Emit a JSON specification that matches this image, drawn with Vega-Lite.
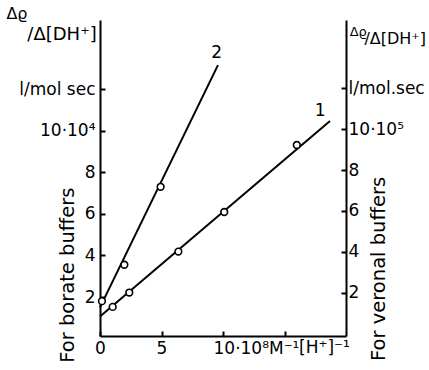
{
  "$schema": "https://vega.github.io/schema/vega-lite/v6.json",
  "width": 246,
  "height": 316,
  "autosize": {"type": "none"},
  "padding": {"left": 100, "top": 20, "right": 83, "bottom": 34},
  "background": "white",
  "config": {
    "view": {"stroke": null},
    "font": "DejaVu Sans",
    "axis": {
      "grid": false,
      "domainColor": "black",
      "domainWidth": 2,
      "tickColor": "black",
      "tickWidth": 2,
      "tickSize": -5,
      "labelColor": "black",
      "labelFont": "DejaVu Sans",
      "labelFontSize": 17,
      "labelPadding": 9,
      "labelFlush": false,
      "labelOverlap": false,
      "labelBound": false,
      "titleColor": "black",
      "titleFont": "DejaVu Sans",
      "titleFontWeight": "normal",
      "zindex": 1
    }
  },
  "datasets": {
    "borate_fit": [{"x": 0, "y": 1.5}, {"x": 9.59, "y": 13.15}],
    "borate_pts": [
      {"x": 0.16, "y": 1.8},
      {"x": 1.98, "y": 3.55},
      {"x": 4.93, "y": 7.3}
    ],
    "veronal_fit": [{"x": 0, "y": 0.85}, {"x": 18.7, "y": 10.39}],
    "veronal_pts": [
      {"x": 1.03, "y": 1.32},
      {"x": 2.38, "y": 2.02},
      {"x": 6.37, "y": 4.02},
      {"x": 10.1, "y": 5.95},
      {"x": 16.0, "y": 9.22}
    ],
    "line_tags": [
      {"x": 17.9, "y": 10.94, "text": "1"},
      {"x": 9.49, "y": 13.73, "text": "2"}
    ],
    "side_notes": [
      {"x": -2.6, "y": 3.05, "text": "For borate buffers"},
      {"x": 22.68, "y": 3.35, "text": "For veronal buffers"}
    ],
    "head_left_top": [{"x": -6.75, "y": 15.6, "text": "Δϱ"}],
    "head_left_main": [{"x": -3.09, "y": 14.6, "text": "/Δ[DH⁺]"}],
    "head_right_top": [{"x": 21.0, "y": 14.74, "text": "Δϱ"}],
    "head_right_main": [{"x": 24.0, "y": 14.4, "text": "/Δ[DH⁺]"}]
  },
  "layer": [
    {
      "encoding": {
        "x": {
          "field": "x",
          "type": "quantitative",
          "scale": {"domain": [0, 20], "nice": false, "zero": false},
          "axis": {
            "orient": "bottom",
            "values": [0, 5, 10, 15],
            "labelPadding": 9,
            "labelExpr": "datum.value == 10 ? '10·10⁸M⁻¹' : datum.value == 15 ? '' : datum.label",
            "labelAlign": {"condition": {"test": "datum.value == 10", "value": "left"}, "value": "center"},
            "labelOffset": {"condition": {"test": "datum.value == 10", "value": -10}, "value": 0},
            "title": "[H⁺]⁻¹",
            "titleFontSize": 17,
            "titleX": 224,
            "titleY": 3,
            "titleAlign": "center",
            "titleBaseline": "top"
          }
        },
        "y": {
          "field": "y",
          "type": "quantitative",
          "scale": {"domain": [0.125, 15.32], "nice": false, "zero": false},
          "axis": {
            "orient": "left",
            "values": [2, 4, 6, 8, 10, 12],
            "labelPadding": 10,
            "labelExpr": "datum.value == 12 ? 'l/mol sec' : datum.value == 10 ? '10·10⁴' : datum.label",
            "title": null
          }
        }
      },
      "layer": [
        {
          "data": {"name": "borate_fit"},
          "mark": {"type": "line", "color": "black", "strokeWidth": 2}
        },
        {
          "data": {"name": "borate_pts"},
          "mark": {"type": "point", "shape": "circle", "size": 45, "filled": true, "fill": "white", "stroke": "black", "strokeWidth": 1.6, "opacity": 1}
        },
        {
          "data": {"name": "line_tags"},
          "mark": {"type": "text", "fontSize": 17, "color": "black", "align": "center", "baseline": "middle"},
          "encoding": {"text": {"field": "text"}}
        },
        {
          "data": {"name": "side_notes"},
          "mark": {"type": "text", "fontSize": 19.5, "color": "black", "angle": 270, "align": "center", "baseline": "middle"},
          "encoding": {"text": {"field": "text"}}
        },
        {
          "data": {"name": "head_left_top"},
          "mark": {"type": "text", "fontSize": 16, "color": "black", "align": "center", "baseline": "middle"},
          "encoding": {"text": {"field": "text"}}
        },
        {
          "data": {"name": "head_left_main"},
          "mark": {"type": "text", "fontSize": 18, "color": "black", "align": "center", "baseline": "middle"},
          "encoding": {"text": {"field": "text"}}
        },
        {
          "data": {"name": "head_right_top"},
          "mark": {"type": "text", "fontSize": 13, "color": "black", "align": "center", "baseline": "middle"},
          "encoding": {"text": {"field": "text"}}
        },
        {
          "data": {"name": "head_right_main"},
          "mark": {"type": "text", "fontSize": 16, "color": "black", "align": "center", "baseline": "middle"},
          "encoding": {"text": {"field": "text"}}
        }
      ]
    },
    {
      "encoding": {
        "x": {"field": "x", "type": "quantitative"},
        "y": {
          "field": "y",
          "type": "quantitative",
          "scale": {"domain": [-0.1, 15.32], "nice": false, "zero": false},
          "axis": {
            "orient": "right",
            "values": [2, 4, 6, 8, 10, 12],
            "labelPadding": 7,
            "labelExpr": "datum.value == 12 ? 'l/mol.sec' : datum.value == 10 ? '10·10⁵' : datum.label",
            "title": null
          }
        }
      },
      "layer": [
        {
          "data": {"name": "veronal_fit"},
          "mark": {"type": "line", "color": "black", "strokeWidth": 2}
        },
        {
          "data": {"name": "veronal_pts"},
          "mark": {"type": "point", "shape": "circle", "size": 45, "filled": true, "fill": "white", "stroke": "black", "strokeWidth": 1.6, "opacity": 1}
        }
      ]
    }
  ],
  "resolve": {"scale": {"y": "independent"}}
}
